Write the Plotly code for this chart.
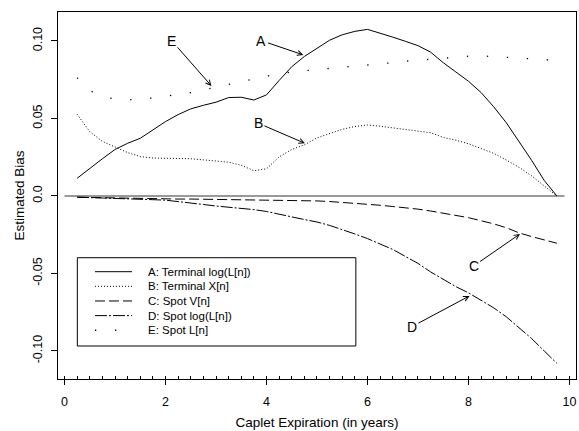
import plotly.graph_objects as go

# ---- data -------------------------------------------------------------
expiry = [0.25, 0.5, 0.75, 1.0, 1.25, 1.5, 1.75, 2.0, 2.25, 2.5, 2.75, 3.0, 3.25,
          3.5, 3.75, 4.0, 4.25, 4.5, 4.75, 5.0, 5.25, 5.5, 5.75, 6.0, 6.25, 6.5,
          6.75, 7.0, 7.25, 7.5, 7.75, 8.0, 8.25, 8.5, 8.75, 9.0, 9.25, 9.5, 9.75]

terminal_log_L = [0.0114, 0.0179, 0.0240, 0.0300, 0.0340, 0.0372, 0.0425, 0.0480,
                  0.0525, 0.0562, 0.0585, 0.0605, 0.0635, 0.0637, 0.0619, 0.0652,
                  0.0745, 0.0834, 0.0900, 0.0950, 0.1005, 0.1040, 0.1062, 0.1075,
                  0.1052, 0.1025, 0.0998, 0.0970, 0.0928, 0.0860, 0.0800, 0.0740,
                  0.0667, 0.0575, 0.0472, 0.0355, 0.0230, 0.0100, 0.0000]

terminal_X = [0.0527, 0.0415, 0.0352, 0.0318, 0.0280, 0.0254, 0.0245, 0.0243,
              0.0242, 0.0240, 0.0233, 0.0225, 0.0218, 0.0198, 0.0163, 0.0175,
              0.0252, 0.0300, 0.0330, 0.0375, 0.0405, 0.0430, 0.0448, 0.0458,
              0.0450, 0.0440, 0.0430, 0.0421, 0.0408, 0.0378, 0.0360, 0.0337,
              0.0308, 0.0275, 0.0232, 0.0185, 0.0130, 0.0068, 0.0000]

spot_V = [-0.0008, -0.0010, -0.0012, -0.0014, -0.0015, -0.0017, -0.0018, -0.0019,
          -0.0020, -0.0020, -0.0021, -0.0021, -0.0022, -0.0024, -0.0026, -0.0027,
          -0.0028, -0.0029, -0.0030, -0.0032, -0.0036, -0.0041, -0.0047, -0.0053,
          -0.0060, -0.0068, -0.0076, -0.0085, -0.0097, -0.0111, -0.0124, -0.0140,
          -0.0160, -0.0180, -0.0205, -0.0238, -0.0262, -0.0283, -0.0305]

spot_log_L = [-0.0008, -0.0010, -0.0013, -0.0016, -0.0018, -0.0021, -0.0024, -0.0027,
              -0.0035, -0.0045, -0.0055, -0.0065, -0.0072, -0.0079, -0.0088, -0.0100,
              -0.0120, -0.0135, -0.0152, -0.0168, -0.0190, -0.0215, -0.0245, -0.0275,
              -0.0308, -0.0345, -0.0390, -0.0435, -0.0490, -0.0540, -0.0585, -0.0625,
              -0.0672, -0.0722, -0.0780, -0.0850, -0.0920, -0.1000, -0.1080]

spot_L = [0.0763, 0.0680, 0.0645, 0.0624, 0.0620, 0.0624, 0.0632, 0.0643,
          0.0655, 0.0667, 0.0684, 0.0702, 0.0720, 0.0738, 0.0757, 0.0773,
          0.0786, 0.0801, 0.0808, 0.0815, 0.0822, 0.0829, 0.0835, 0.0842,
          0.0850, 0.0860, 0.0870, 0.0878, 0.0882, 0.0888, 0.0896, 0.0902,
          0.0904, 0.0899, 0.0895, 0.0891, 0.0886, 0.0880, 0.0875]

series_names = ["A: Terminal log(L[n])", "B: Terminal X[n]", "C: Spot V[n]",
                "D: Spot log(L[n])", "E: Spot L[n]"]

x_tick_vals = [0, 2, 4, 6, 8, 10]
y_tick_vals = [-0.10, -0.05, 0.0, 0.05, 0.10]
y_tick_text = ["-0.10", "-0.05", "0.0", "0.05", "0.10"]

zero_line_x = [0.0, 9.9]

# label letter, text position (x, y), arrow head (x, y)
callouts = [
    ("E", 2.12, 0.1003, 2.91, 0.0710),
    ("A", 3.90, 0.1002, 4.73, 0.0910),
    ("B", 3.84, 0.0469, 4.76, 0.0340),
    ("C", 8.10, -0.0452, 9.02, -0.0245),
    ("D", 6.88, -0.0843, 8.02, -0.0645),
]

# ---- figure -----------------------------------------------------------
FONT = "Liberation Sans, Arial, Helvetica, sans-serif"
styles = [
    dict(dash="solid", width=1),
    dict(dash="1px,2px", width=1),
    dict(dash="10px,4px", width=1),
    dict(dash="12px,2px,2px,2px", width=1),
    dict(dash="1.3px,18.7px", width=1.3),
]
values = [terminal_log_L, terminal_X, spot_V, spot_log_L, spot_L]

fig = go.Figure()
for name, vals, st in zip(series_names, values, styles):
    fig.add_trace(go.Scatter(
        x=expiry, y=vals, mode="lines", name=name, showlegend=False,
        line=dict(color="black", dash=st["dash"], width=st["width"]),
    ))

# zero reference line
fig.add_shape(type="line", xref="x", yref="y",
              x0=zero_line_x[0], x1=zero_line_x[1], y0=0, y1=0,
              line=dict(color="#777777", width=1.5), layer="below")

# legend (drawn as a framed key, R style)
fig.add_shape(type="rect", xref="paper", yref="paper",
              x0=0.0373, x1=0.575, y0=0.0899, y1=0.3305,
              line=dict(color="black", width=1))
key_x0, key_x1, key_tx = 0.0714, 0.1429, 0.1700
key_top, key_step = 0.2924, 0.0399
for i, (name, st) in enumerate(zip(series_names, styles)):
    yy = key_top - i * key_step
    fig.add_shape(type="line", xref="paper", yref="paper",
                  x0=key_x0, x1=key_x1, y0=yy, y1=yy,
                  line=dict(color="black", dash=st["dash"], width=st["width"]))
    fig.add_annotation(x=key_tx, y=yy, xref="paper", yref="paper",
                       text=name, showarrow=False, xanchor="left", yanchor="middle",
                       font=dict(family=FONT, size=11.5, color="black"))

for lab, tx, ty, hx, hy in callouts:
    fig.add_annotation(
        x=hx, y=hy, ax=tx, ay=ty, xref="x", yref="y", axref="x", ayref="y",
        text=lab, showarrow=True, arrowhead=5, arrowsize=1, arrowwidth=1,
        arrowcolor="black", font=dict(family=FONT, size=14, color="black"),
        standoff=0, startstandoff=0,
    )

fig.update_layout(
    width=579, height=431,
    margin=dict(l=58, r=3, t=12, b=52),
    paper_bgcolor="white", plot_bgcolor="white",
    font=dict(family=FONT, color="black", size=12),
    showlegend=False,
)

fig.update_xaxes(
    range=[-0.1287, 10.129], showgrid=False, zeroline=False,
    showline=True, mirror=True, linecolor="black", linewidth=1,
    tickmode="array", tickvals=x_tick_vals, ticks="outside", ticklen=5,
    tickcolor="black", tickfont=dict(size=12.5),
    ticklabelstandoff=6,
    minor=dict(ticks="inside", dtick=0.25, tick0=0, ticklen=3, tickcolor="black", showgrid=False),
    title=dict(text="Caplet Expiration (in years)", font=dict(size=13.5), standoff=9),
)
fig.update_yaxes(
    range=[-0.1181, 0.1187], showgrid=False, zeroline=False,
    showline=True, mirror=True, linecolor="black", linewidth=1,
    tickmode="array", tickvals=y_tick_vals, ticktext=y_tick_text,
    ticks="outside", ticklen=6, tickcolor="black", tickangle=-90,
    tickfont=dict(size=12.5), ticklabelstandoff=4,
    title=dict(text="Estimated Bias", font=dict(size=13.5), standoff=3),
)

fig.write_html("out.html")
